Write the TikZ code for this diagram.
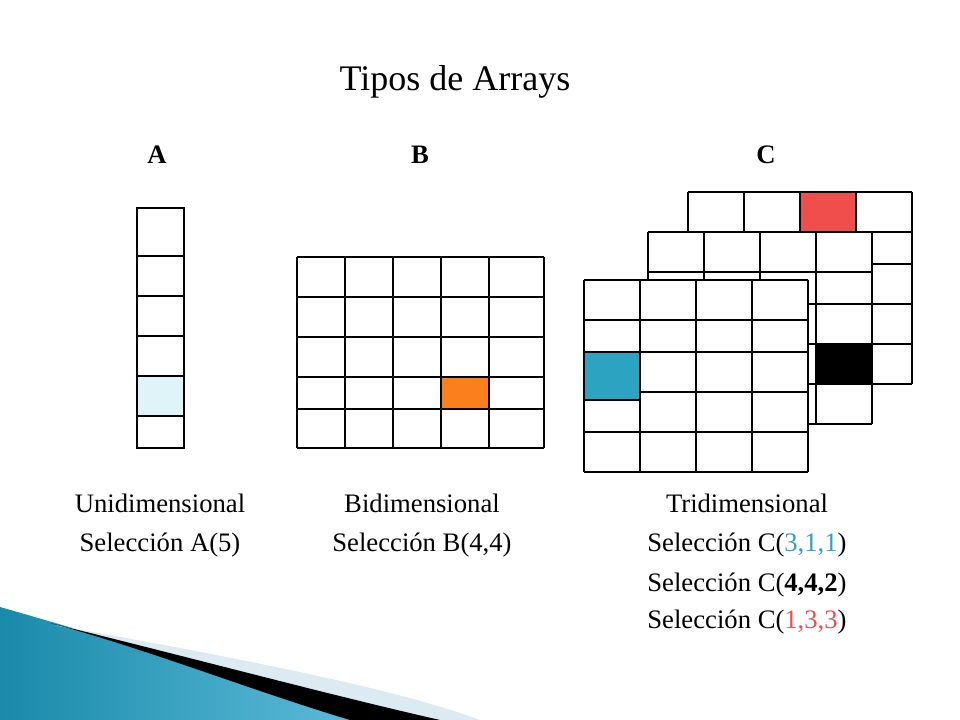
\documentclass[tikz,border=0pt]{standalone}
\usepackage{fontspec}
\setmainfont{Liberation Serif}
\usepackage{xcolor}
\usetikzlibrary{positioning}
\definecolor{cblue}{HTML}{2CA3C0}
\definecolor{cred}{HTML}{F04D4D}
\definecolor{corange}{HTML}{FC7F1E}
\definecolor{clight}{HTML}{DFF4F8}
\definecolor{sea}{HTML}{1A8AAA}
\definecolor{seal}{HTML}{5BBAD8}
\definecolor{pale}{HTML}{DCEBF2}
\tikzset{
  grid line/.style={draw=black,line width=1pt},
  lbl/.style={font=\fontsize{20}{22}\selectfont,inner sep=0pt},
  head/.style={font=\fontsize{20}{22}\selectfont\bfseries,inner sep=0pt}
}
% grid: x positions, y positions (px, y down)
\newcommand\cellgrid[2]{%
  \foreach \gx in {#1} {\foreach \gy in {#2} {\xdef\lastgy{\gy}}\xdef\lastgx{\gx}}%
  \edef\firstgx{\expandafter\firstof#1,\relax}%
  \edef\firstgy{\expandafter\firstof#2,\relax}%
  \fill[white] (\firstgx,\firstgy) rectangle (\lastgx,\lastgy);
  \foreach \gx in {#1} \draw[grid line] (\gx,\firstgy) -- (\gx,\lastgy);
  \foreach \gy in {#2} \draw[grid line] (\firstgx,\gy) -- (\lastgx,\gy);
}
\def\firstof#1,#2\relax{#1}
\begin{document}
\begin{tikzpicture}[x=0.75pt,y=-0.75pt]
  \useasboundingbox (0,0) rectangle (960,720);

  % swoosh
  \shade[left color=sea,right color=seal] (0,607) .. controls (150,650) and (280,690) .. (350,720) -- (0,720) -- cycle;
  \fill[pale] (55,625) .. controls (250,660) and (400,690) .. (480,720) -- (420,720) .. controls (300,690) and (180,655) .. (55,625) -- cycle;
  \fill[black] (50,623) .. controls (200,660) and (330,695) .. (440,720) -- (350,720) .. controls (250,690) and (150,650) .. (50,623) -- cycle;

  \node[font=\fontsize{27}{30}\selectfont] (title) at (455,82) {Tipos de Arrays};
  \node[head] (hA) at (157,155) {A};
  \node[head] (hB) at (420,155) {B};
  \node[head] (hC) at (766,155) {C};

  % A
  \fill[clight] (137,376) rectangle (184,416);
  \draw[grid line] (137,208) rectangle (184,448);
  \foreach \y in {256,296,336,376,416} \draw[grid line] (137,\y) -- (184,\y);

  % B
  \cellgrid{297,345,393,441,489,544}{257,297,337,377,409,448}
  \fill[corange] (441,377) rectangle (489,409);
  \draw[grid line] (441,377) rectangle (489,409);

  % C
  \cellgrid{688,744,800,856,912}{192,232,264,304,344,384}
  \fill[cred] (800,192) rectangle (856,232);
  \draw[grid line] (800,192) rectangle (856,232);
  \cellgrid{648,704,760,816,872}{232,272,304,344,384,424}
  \fill[black] (816,344) rectangle (872,384);
  \cellgrid{584,640,696,752,808}{280,320,352,392,432,472}
  \fill[cblue] (584,352) rectangle (640,400);
  \draw[grid line] (584,352) rectangle (640,400);

  \node[lbl] (uni) at (160,503) {Unidimensional};
  \node[lbl] (selA) at (160,545) {Selección A(5)};
  \node[lbl] (bi) at (422,503) {Bidimensional};
  \node[lbl] (selB) at (422,545) {Selección B(4,4)};
  \node[lbl] (tri) at (747,503) {Tridimensional};
  \node[lbl] (selC1) at (747,545) {Selección C(\textcolor{cblue}{3,1,1})};
  \node[lbl] (selC2) at (747,585) {Selección C(\textbf{4,4,2})};
  \node[lbl] (selC3) at (747,622) {Selección C(\textcolor{cred}{1,3,3})};
\end{tikzpicture}
\end{document}
